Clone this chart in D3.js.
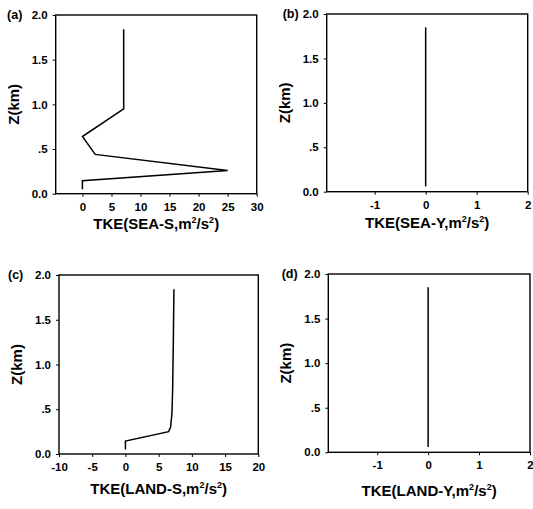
<!DOCTYPE html>
<html>
<head>
<meta charset="utf-8">
<script src="https://cdn.jsdelivr.net/npm/d3@7"></script>
<style>
  html, body { margin: 0; padding: 0; background: #fff; }
  svg { display: block; }
  text { font-family: "Liberation Sans", Arial, Helvetica, sans-serif; font-weight: bold; fill: #000; }
</style>
</head>
<body>
<svg id="chart" width="533" height="509"></svg>
<script>
// Vertical TKE profiles: sea / land, S and Y components
const panelLetters = ["(a)", "(b)", "(c)", "(d)"];

const tkeSeaS = [0, 0, 25, 2.2, 0, 7.1, 7.1];
const zSeaS   = [0.05, 0.145, 0.26, 0.44, 0.64, 0.95, 1.84];

const tkeSeaY = [0, 0];
const zSeaY   = [0.06, 1.85];

const tkeLandS = [0, 0, 6.5, 6.8, 7.0, 7.1, 7.2, 7.3];
const zLandS   = [0.05, 0.145, 0.25, 0.3, 0.45, 0.7, 1.2, 1.84];

const tkeLandY = [0, 0];
const zLandY   = [0.06, 1.85];

const xTicksSeaS  = [0, 5, 10, 15, 20, 25, 30];
const xTicksY     = [-1, 0, 1, 2];
const xTicksLandS = [-10, -5, 0, 5, 10, 15, 20];

const zTicks      = [0, 0.5, 1.0, 1.5, 2.0];
const zTickLabels = ["0.0", ".5", "1.0", "1.5", "2.0"];

const xTitles = [
  ["TKE(SEA-S,m", "/s", ")"],
  ["TKE(SEA-Y,m", "/s", ")"],
  ["TKE(LAND-S,m", "/s", ")"],
  ["TKE(LAND-Y,m", "/s", ")"]
];

// layout of each panel box (pixels)
const panels = [
  { letter: panelLetters[0], tke: tkeSeaS,  z: zSeaS,  xDomain: [-4.6, 30],  xTicks: xTicksSeaS,  title: xTitles[0],
    left: 55.7, right: 256.7, top: 15,  bottom: 193.7, titleY: 229, letterX: -48.7 },
  { letter: panelLetters[1], tke: tkeSeaY,  z: zSeaY,  xDomain: [-1.94, 2],  xTicks: xTicksY,     title: xTitles[1],
    left: 326.7, right: 527.7, top: 14, bottom: 191.7, titleY: 228, letterX: -44 },
  { letter: panelLetters[2], tke: tkeLandS, z: zLandS, xDomain: [-10, 20],   xTicks: xTicksLandS, title: xTitles[2],
    left: 59, right: 258.3, top: 275, bottom: 454, titleY: 494, letterX: -51 },
  { letter: panelLetters[3], tke: tkeLandY, z: zLandY, xDomain: [-1.96, 2],  xTicks: xTicksY,     title: xTitles[3],
    left: 328.3, right: 530, top: 274, bottom: 452.3, titleY: 496, letterX: -46.6 }
];

const svg = d3.select("#chart");

panels.forEach(p => {
  const w = p.right - p.left, h = p.bottom - p.top;
  const g = svg.append("g").attr("transform", `translate(${p.left},${p.top})`);

  const x = d3.scaleLinear().domain(p.xDomain).range([0, w]);
  const y = d3.scaleLinear().domain([0, 2]).range([h, 0]);

  // bottom axis
  const xAxis = g.append("g")
    .attr("transform", `translate(0,${h})`)
    .call(d3.axisBottom(x).tickValues(p.xTicks).tickFormat(d => String(d))
      .tickSize(3).tickPadding(6).tickSizeOuter(0));
  xAxis.select(".domain").remove();
  xAxis.selectAll("line").attr("stroke", "#000").attr("stroke-width", 1);
  xAxis.selectAll("text").attr("font-size", 11.5).attr("font-family", null);

  // left axis
  const yAxis = g.append("g")
    .call(d3.axisLeft(y).tickValues(zTicks).tickFormat((d, i) => zTickLabels[i])
      .tickSize(3).tickPadding(5).tickSizeOuter(0));
  yAxis.select(".domain").remove();
  yAxis.selectAll("line").attr("stroke", "#000").attr("stroke-width", 1);
  yAxis.selectAll("text").attr("font-size", 11.5).attr("font-family", null);

  // frame
  g.append("rect")
    .attr("x", 0).attr("y", 0).attr("width", w).attr("height", h)
    .attr("fill", "none").attr("stroke", "#000").attr("stroke-width", 1.4);

  // profile
  const pts = p.tke.map((v, i) => [v, p.z[i]]);
  g.append("path")
    .datum(pts)
    .attr("fill", "none")
    .attr("stroke", "#000")
    .attr("stroke-width", 1.5)
    .attr("stroke-linejoin", "miter")
    .attr("d", d3.line().x(d => x(d[0])).y(d => y(d[1])));

  // panel letter, level with the top tick label
  g.append("text")
    .attr("x", p.letterX)
    .attr("y", y(2))
    .attr("dy", "0.32em")
    .attr("font-size", 12.5)
    .text(p.letter);

  // z title
  g.append("text")
    .attr("transform", `translate(${-37},${h / 2}) rotate(-90)`)
    .attr("text-anchor", "middle")
    .attr("font-size", 15)
    .text("Z(km)");

  // x title with superscripts
  const t = g.append("text")
    .attr("x", w / 2)
    .attr("y", p.titleY - p.top)
    .attr("text-anchor", "middle")
    .attr("font-size", 15);
  t.append("tspan").text(p.title[0]);
  t.append("tspan").attr("dy", -6).attr("font-size", 9).text("2");
  t.append("tspan").attr("dy", 6).text(p.title[1]);
  t.append("tspan").attr("dy", -6).attr("font-size", 9).text("2");
  t.append("tspan").attr("dy", 6).text(p.title[2]);
});
</script>
</body>
</html>
